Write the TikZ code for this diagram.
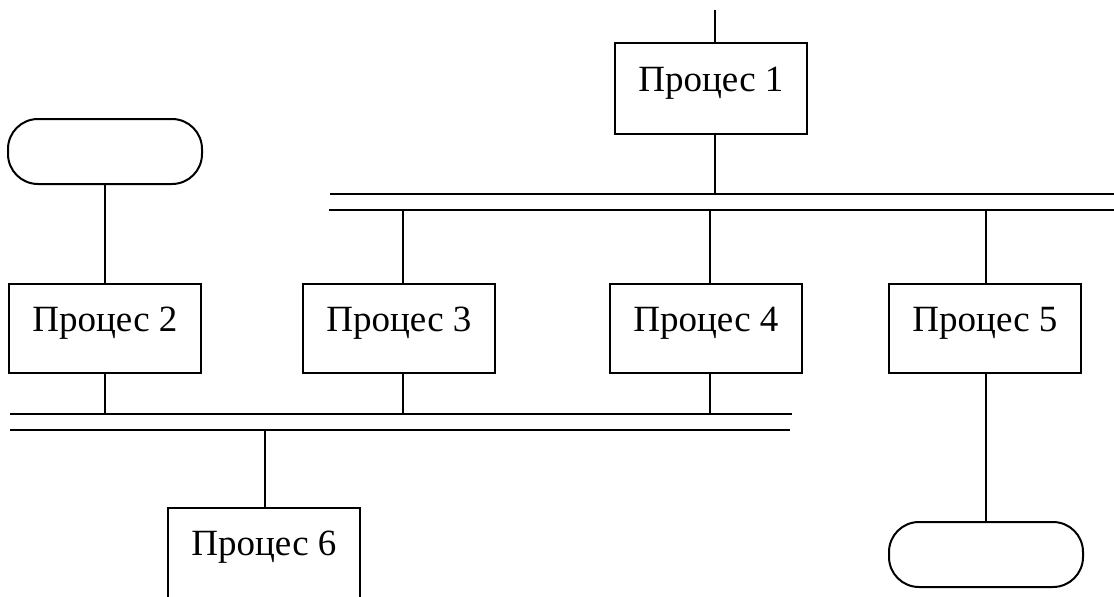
\documentclass[tikz,border=0pt]{standalone}
\usepackage{fontspec}
\setmainfont{Liberation Serif}
\begin{document}
\begin{tikzpicture}[x=1pt,y=-1pt,
  proc/.style={draw,line width=2pt,minimum width=192pt,minimum height=89pt,inner sep=0pt,
    font=\fontsize{37}{40}\selectfont,text height=10pt,text depth=5pt},
  term/.style={draw,line width=2pt,rounded corners=30pt,minimum width=194pt,minimum height=65pt,inner sep=0pt},
  conn/.style={line width=2pt},
  busthick/.style={line width=2.8pt},
  busthin/.style={line width=1.8pt}]
\useasboundingbox (0,0) rectangle (1114,597);
\clip (0,0) rectangle (1114,597);
% nodes
\node[proc,minimum height=91pt] (p1) at (711,88.5) {Процес 1};
\node[proc] (p2) at (105,328.5) {Процес 2};
\node[proc] (p3) at (399,328.5) {Процес 3};
\node[proc] (p4) at (706,328.5) {Процес 4};
\node[proc] (p5) at (985,328.5) {Процес 5};
\node[proc,minimum height=100pt,text height=10pt,text depth=16pt] (p6) at (264,558) {Процес 6};
\node[term] (t1) at (105,151.5) {};
\node[term] (t2) at (986,554.5) {};
% coordinates
\coordinate (top) at (715,10);
\coordinate (ub1a) at (330,194);
\coordinate (ub1b) at (1114,194);
\coordinate (ub2a) at (329,210);
\coordinate (ub2b) at (1114,210);
\coordinate (lb1a) at (10,414);
\coordinate (lb1b) at (792,414);
\coordinate (lb2a) at (10,430);
\coordinate (lb2b) at (790,430);
% buses
\draw[busthick] (ub1a) -- (ub1b);
\draw[busthin] (ub2a) -- (ub2b);
\draw[busthin] (lb1a) -- (lb1b);
\draw[busthick] (lb2a) -- (lb2b);
% connectors
\draw[conn] (top) -- (top |- p1.north);
\draw[conn] (top |- p1.south) -- (top |- ub1a);
\draw[conn] ([xshift=4pt]p3.north |- ub2a) -- ([xshift=4pt]p3.north);
\draw[conn] ([xshift=4pt]p4.north |- ub2a) -- ([xshift=4pt]p4.north);
\draw[conn] ([xshift=1pt]p5.north |- ub2a) -- ([xshift=1pt]p5.north);
\draw[conn] (t1.south) -- (p2.north);
\draw[conn] (p2.south) -- (p2.south |- lb1a);
\draw[conn] ([xshift=4pt]p3.south) -- ([xshift=4pt]p3.south |- lb1a);
\draw[conn] ([xshift=4pt]p4.south) -- ([xshift=4pt]p4.south |- lb1a);
\draw[conn] ([xshift=1pt]p5.south) -- (t2.north);
\draw[conn] ([xshift=1pt]p6.north |- lb2a) -- ([xshift=1pt]p6.north);
\end{tikzpicture}
\end{document}
